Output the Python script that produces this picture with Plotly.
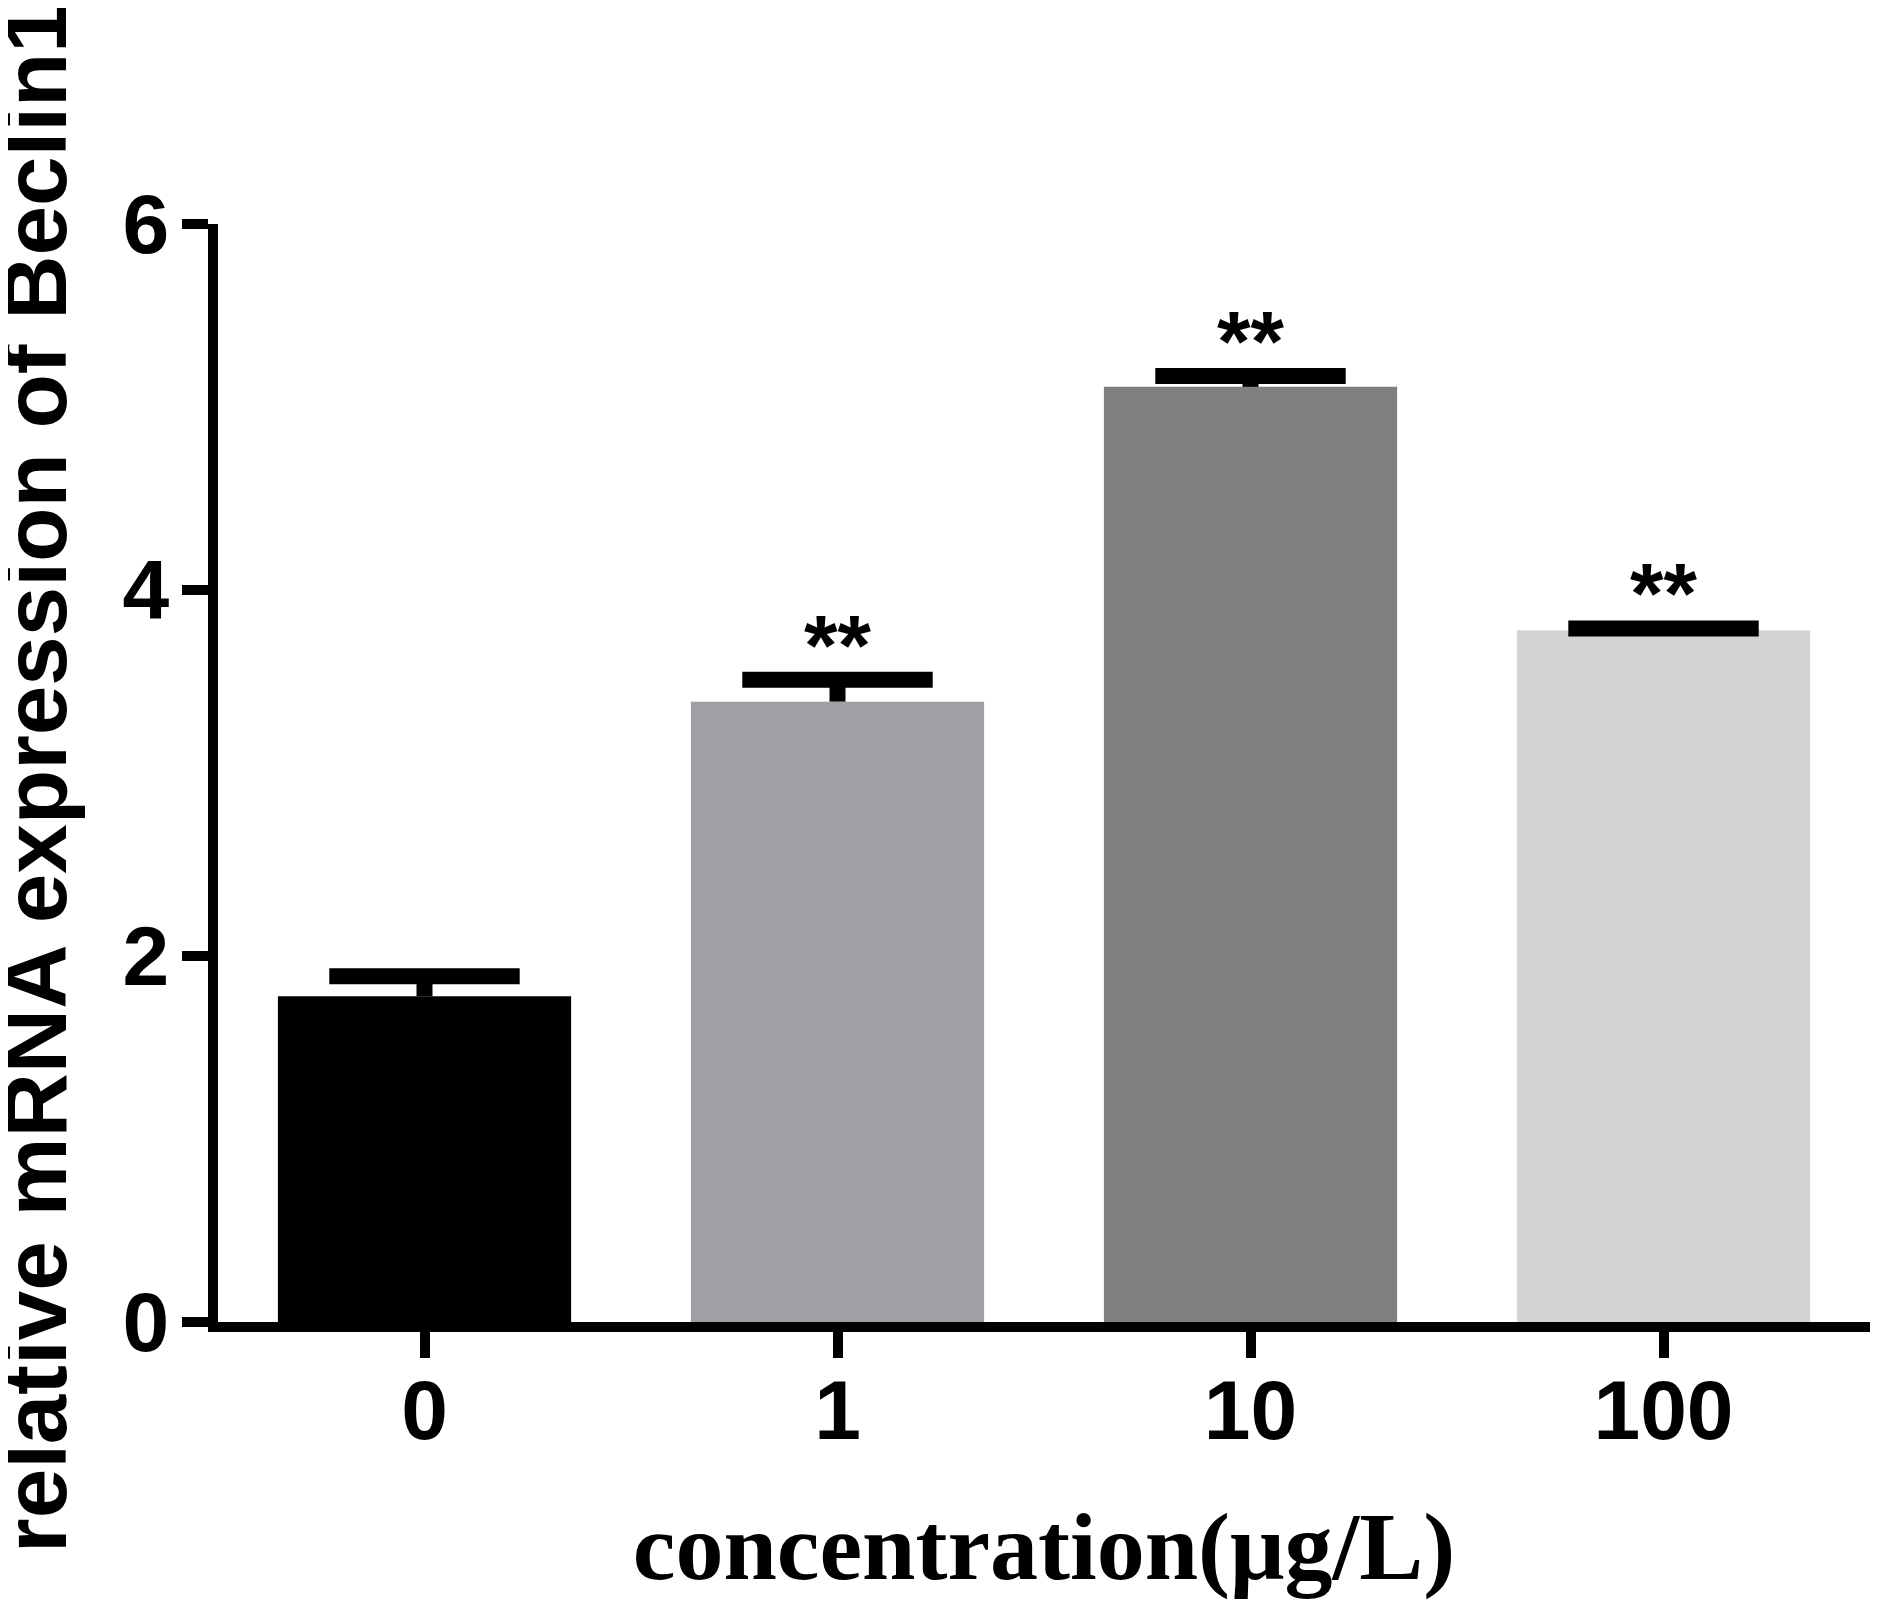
import plotly.graph_objects as go

# values
concentrations = ["0", "1", "10", "100"]
mean_expression = [1.78, 3.39, 5.11, 3.78]
sem_expression = [0.11, 0.12, 0.06, 0.01]
significance = ["", "**", "**", "**"]
bar_colors = ["#000000", "#a0a0a4", "#808080", "#d3d3d3"]
y_ticks = [0, 2, 4, 6]

sans = "Liberation Sans, Arial, sans-serif"
serif = "Liberation Serif, Times New Roman, serif"

upper = [m + e for m, e in zip(mean_expression, sem_expression)]

fig = go.Figure()
fig.add_trace(
    go.Bar(
        x=concentrations,
        y=mean_expression,
        width=0.71,
        marker=dict(color=bar_colors, line=dict(width=0)),
        # stem only, the caps are drawn by the marker trace below
        error_y=dict(
            type="data",
            array=sem_expression,
            symmetric=False,
            arrayminus=[0] * len(sem_expression),
            color="black",
            thickness=16,
            width=0,
        ),
        showlegend=False,
    )
)
# upper caps of the SEM bars
fig.add_trace(
    go.Scatter(
        x=concentrations,
        y=upper,
        mode="markers",
        marker=dict(symbol="line-ew", size=136, color="black",
                    line=dict(width=16, color="black")),
        hoverinfo="skip",
        showlegend=False,
    )
)

# significance stars above the error bars
for i, (u, s) in enumerate(zip(upper, significance)):
    if s:
        fig.add_annotation(
            x=i,
            y=u,
            text=s,
            showarrow=False,
            yanchor="bottom",
            yshift=-15,
            font=dict(family=sans, size=86, color="black", weight="bold"),
        )

# y title as a rotated annotation so it can sit right at the page edge
fig.add_annotation(
    xref="paper",
    yref="paper",
    x=0,
    y=0.5,
    xanchor="right",
    yanchor="middle",
    xshift=-131,
    yshift=-5,
    textangle=-90,
    text="relative mRNA expression of Beclin1",
    showarrow=False,
    font=dict(family=sans, size=89, color="black", weight="bold"),
)

fig.update_xaxes(
    type="category",
    range=[-0.5, 3.5],
    automargin=False,
    showline=True,
    linecolor="black",
    linewidth=10,
    ticks="outside",
    ticklen=26,
    tickwidth=10,
    tickcolor="black",
    tickfont=dict(family=sans, size=84, color="black", weight="bold"),
    ticklabelstandoff=-20,
    showgrid=False,
    zeroline=False,
    title=dict(
        text="concentration(μg/L)",
        font=dict(family=serif, size=96, color="black", weight="bold"),
        standoff=60,
    ),
)
fig.update_yaxes(
    range=[0, 6],
    tickvals=y_ticks,
    automargin=False,
    showline=True,
    linecolor="black",
    linewidth=10,
    ticks="outside",
    ticklen=26,
    tickwidth=10,
    tickcolor="black",
    tickfont=dict(family=sans, size=84, color="black", weight="bold"),
    ticklabelstandoff=-4,
    showgrid=False,
    zeroline=False,
)
fig.update_layout(
    width=1872,
    height=1598,
    margin=dict(l=210, r=10, t=216, b=284),
    plot_bgcolor="white",
    paper_bgcolor="white",
)
fig.write_html("out.html")
